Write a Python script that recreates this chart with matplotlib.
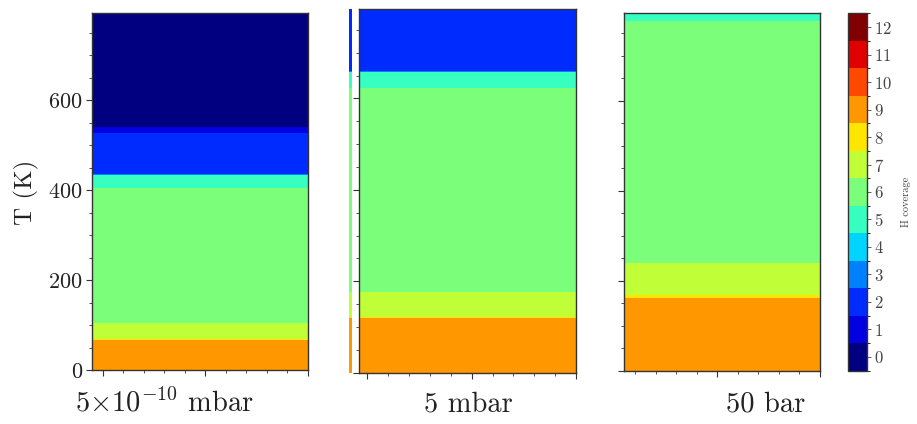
import numpy as np
import matplotlib
matplotlib.use("Agg")
import matplotlib.pyplot as plt
from matplotlib.colors import BoundaryNorm
from matplotlib.cm import ScalarMappable
from matplotlib.ticker import MultipleLocator, NullFormatter

plt.rcParams['font.family'] = 'serif'
plt.rcParams['font.serif'] = ['cmr10', 'DejaVu Serif']
plt.rcParams['mathtext.fontset'] = 'cm'
plt.rcParams['axes.unicode_minus'] = False
plt.rcParams['axes.formatter.use_mathtext'] = True

# H coverage bands: temperature edges (K) and coverage value in each band
t_low = [0, 67, 69, 105, 405, 434, 436, 527, 540, 795]
h_low = [9, 8, 7, 6, 5, 3, 2, 1, 0]

t_mid = [0, 119, 121, 176, 623, 658, 661, 795]
h_mid = [9, 8, 7, 6, 5, 3, 2]

t_high = [0, 162, 168, 239, 777, 795]
h_high = [9, 8, 7, 6, 5]

labels = [r'$5{\times}10^{-10}$ mbar', '5 mbar', '50 bar']
label_x = [164, 468, 766]
levels = np.arange(13)

cmap = plt.get_cmap('jet', 13)
norm = BoundaryNorm(np.arange(-0.5, 13.0, 1.0), 13)

W, H = 917, 424
fig = plt.figure(figsize=(W / 100, H / 100), dpi=100)


def box(l, r, t, b):
    return [l / W, 1 - b / H, (r - l) / W, (b - t) / H]


def draw(ax, t, h, xlim):
    ax.pcolormesh(xlim, t, np.array(h)[:, None], cmap=cmap, norm=norm)
    ax.set_xlim(xlim)
    ax.set_ylim(0, 795)


panels = [
    (box(92, 308, 12.7, 370), t_low, h_low, (-0.107, 2.0)),
    (box(358.7, 576, 9.3, 372.7), t_mid, h_mid, (-0.083, 2.0)),
    (box(624, 820, 12.7, 371), t_high, h_high, (0.09, 2.0)),
]

for i, (pos, t, h, xlim) in enumerate(panels):
    ax = fig.add_axes(pos)
    draw(ax, t, h, xlim)
    ax.xaxis.set_major_locator(MultipleLocator(1))
    ax.xaxis.set_minor_locator(MultipleLocator(0.2))
    ax.yaxis.set_major_locator(MultipleLocator(200))
    ax.yaxis.set_minor_locator(MultipleLocator(50))
    ax.xaxis.set_major_formatter(NullFormatter())
    ax.tick_params(which='major', direction='out', length=4.5, width=0.8,
                   color='#333333', labelsize=16, labelcolor='#222222')
    ax.tick_params(which='minor', direction='out', length=2.5, width=0.6,
                   color='#333333')
    ax.tick_params(axis='y', pad=2)
    if i > 0:
        ax.yaxis.set_major_formatter(NullFormatter())
    for s in ax.spines.values():
        s.set_color('#333333')
        s.set_linewidth(1.0)

# narrow sliver left of the middle panel
sl = fig.add_axes(box(349, 351.5, 9.3, 372.7))
draw(sl, t_mid, h_mid, (0, 1))
sl.axis('off')

fig.text(26 / W, 1 - 192 / H, 'T (K)', rotation=90, ha='center', va='center',
         fontsize=18, color='#222222')

for lab, x in zip(labels, label_x):
    fig.text(x / W, 1 - 411.7 / H, lab, ha='center', va='baseline',
             fontsize=20.5, color='#222222')

cax = fig.add_axes(box(848, 866.7, 13.3, 370.7))
sm = ScalarMappable(norm=norm, cmap=cmap)
cb = fig.colorbar(sm, cax=cax, ticks=levels)
cb.ax.tick_params(labelsize=12, length=3, width=0.6, color='#444444',
                  labelcolor='#444444', pad=2)
cb.outline.set_edgecolor('#333333')
cb.outline.set_linewidth(1.0)
fig.text(906 / W, 1 - 202 / H, 'H coverage', rotation=90, ha='center',
         va='center', fontsize=7.5, color='#444444')

fig.savefig('out.png', dpi=100)
